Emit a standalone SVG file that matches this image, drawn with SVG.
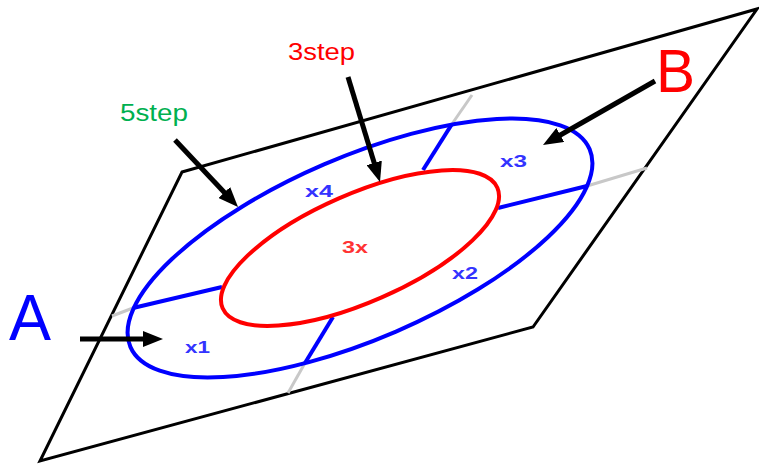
<svg xmlns="http://www.w3.org/2000/svg" width="759" height="465" viewBox="0 0 759 465">
<defs>
<style>
.plane{fill:none;stroke:#000;stroke-width:3;stroke-linejoin:miter}
.guide{fill:none;stroke:#c8c8c8;stroke-width:3}
.blue{fill:none;stroke:#0000ff;stroke-width:4}
.red{fill:none;stroke:#ff0000;stroke-width:4}
.arrow{fill:none;stroke:#000;stroke-width:5;marker-end:url(#head)}
.lbl{font-family:"Liberation Sans",Arial,sans-serif}
.small{font-family:"Liberation Sans",Arial,sans-serif;font-weight:bold;font-size:17px}
</style>
<marker id="head" viewBox="0 0 20 16" refX="8" refY="8" markerWidth="20" markerHeight="16" markerUnits="userSpaceOnUse" orient="auto">
<path d="M0,0 L20,8 L0,16 z" fill="#000"/>
</marker>
</defs>
<rect width="759" height="465" fill="#fff"/>
<g id="plane">
<polygon class="plane" points="182,172 757,9 533,327 40,461"/>
</g>
<g id="guides">
<line class="guide" x1="452" y1="124" x2="472" y2="95"/>
<line class="guide" x1="587" y1="186" x2="647" y2="168"/>
<line class="guide" x1="133" y1="308" x2="112" y2="316"/>
<line class="guide" x1="305" y1="363" x2="288" y2="393"/>
</g>
<g id="region5">
<ellipse class="blue" cx="360" cy="248" rx="250" ry="91" transform="rotate(-23.3 360 248)"/>
<line class="blue" x1="423" y1="170" x2="452" y2="124"/>
<line class="blue" x1="498" y1="208" x2="587" y2="186"/>
<line class="blue" x1="222" y1="287" x2="133" y2="308"/>
<line class="blue" x1="333" y1="317" x2="305" y2="363"/>
</g>
<g id="region3">
<ellipse class="red" cx="360" cy="248" rx="150" ry="54" transform="rotate(-23.7 360 248)"/>
</g>
<g id="connectors">
<line class="arrow" x1="175" y1="140" x2="229.8" y2="198.3"/>
<line class="arrow" x1="348" y1="77" x2="376.5" y2="170.5"/>
<line class="arrow" x1="655" y1="81" x2="553.4" y2="139"/>
<line class="arrow" x1="80" y1="339" x2="151" y2="339"/>
</g>
<g id="labels">
<text class="lbl" x="120" y="121" font-size="23" fill="#00b050" textLength="68" lengthAdjust="spacingAndGlyphs">5step</text>
<text class="lbl" x="288" y="60" font-size="24" fill="#ff0000" textLength="67" lengthAdjust="spacingAndGlyphs">3step</text>
<text class="lbl" x="656" y="92" font-size="62" fill="#ff0000" textLength="39" lengthAdjust="spacingAndGlyphs">B</text>
<text class="lbl" x="9" y="340" font-size="65" fill="#0000ff" textLength="42" lengthAdjust="spacingAndGlyphs">A</text>
<text class="small" x="185" y="353" fill="#3333ff" textLength="25" lengthAdjust="spacingAndGlyphs">x1</text>
<text class="small" x="452" y="279" fill="#3333ff" textLength="26" lengthAdjust="spacingAndGlyphs">x2</text>
<text class="small" x="500" y="167" fill="#3333ff" textLength="27" lengthAdjust="spacingAndGlyphs">x3</text>
<text class="small" x="305" y="197" fill="#3333ff" textLength="28" lengthAdjust="spacingAndGlyphs">x4</text>
<text class="small" x="342" y="253" fill="#ff3333" textLength="26" lengthAdjust="spacingAndGlyphs">3x</text>
</g>
</svg>
